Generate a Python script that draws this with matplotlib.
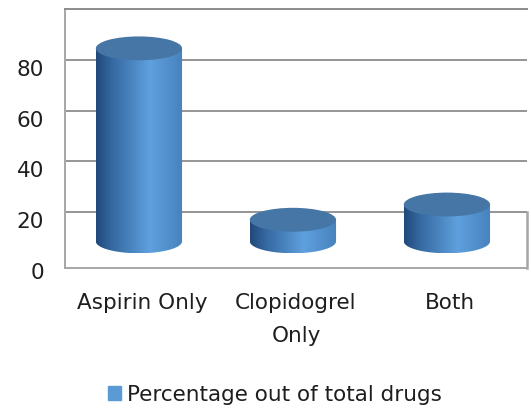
import numpy as np
import matplotlib
matplotlib.use('Agg')
import matplotlib.pyplot as plt
from matplotlib.patches import Ellipse, Polygon, Patch
from matplotlib.colors import LinearSegmentedColormap
from matplotlib.transforms import ScaledTranslation

# data
categories = ["Aspirin Only", "Clopidogrel\nOnly", "Both"]
values = [76, 8.5, 14.5]
yticks = [0, 20, 40, 60, 80]
legend_label = "Percentage out of total drugs"

# look of the 3d cylinders
base = 8.5          # cylinders float a bit above the wall floor (3d depth)
cyl_w = 0.56        # in category units
ell_h = 9.4         # ellipse height in data units
shift = -0.02
body_cmap = LinearSegmentedColormap.from_list(
    "body", [(0.0, "#21497a"), (0.18, "#3468a0"), (0.62, "#5fa0de"), (1.0, "#4782bd")])
top_color = "#4676a6"
grid_col = "#8c8c8c"
frame_col = "#a6a6a6"
text_col = "#1e1e1e"
fsize = 15.5

plt.rcParams['font.family'] = ['DejaVu Sans']
fig = plt.figure(figsize=(5.31, 4.12), dpi=100)
ax = fig.add_axes([65/531, 1-268/412, 462/531, 259/412])

grad = np.linspace(0, 1, 256).reshape(1, -1)
for i, v in enumerate(values):
    cx = i + shift
    top = base + v
    x0, x1 = cx - cyl_w/2, cx + cyl_w/2
    t = np.linspace(0, np.pi, 60)
    arc = np.column_stack([cx + cyl_w/2*np.cos(t), base - ell_h/2*np.sin(t)])
    pts = np.vstack([[[x1, top], [x1, base]], arc[1:-1], [[x0, base], [x0, top]]])
    clip = Polygon(pts, closed=True, fc='none', ec='none', transform=ax.transData)
    ax.add_patch(clip)
    im = ax.imshow(grad, cmap=body_cmap, aspect='auto', zorder=3,
                   extent=[x0, x1, base - ell_h/2, top], interpolation='bilinear')
    im.set_clip_path(clip)
    ax.add_patch(Ellipse((cx, top), cyl_w, ell_h, fc=top_color, ec='none', zorder=4))

ax.set_xlim(-0.5, 2.5)
ax.set_ylim(-2, 100)

# back wall grid + frame
ax.set_yticks(yticks)
ax.yaxis.grid(True, color=grid_col, lw=1.3)
ax.get_ygridlines()[0].set_visible(False)
ax.set_axisbelow(True)
for s in ['left', 'top', 'bottom']:
    ax.spines[s].set_color(frame_col)
    ax.spines[s].set_linewidth(1.4)
ax.spines['top'].set_color(grid_col)
ax.spines['right'].set_visible(False)
ax.plot([2.5, 2.5], [-2, 20], color=frame_col, lw=1.8, clip_on=False, zorder=1)

ax.tick_params(axis='y', length=0, pad=15, labelsize=fsize, labelcolor=text_col)
off = ScaledTranslation(0, -8/100, fig.dpi_scale_trans)
for lab in ax.get_yticklabels():
    lab.set_transform(lab.get_transform() + off)

ax.set_xticks(range(len(categories)))
ax.set_xticklabels(categories, linespacing=1.8)
ax.tick_params(axis='x', length=0, pad=18, labelsize=fsize, labelcolor=text_col)

fig.legend(handles=[Patch(color="#5b9bd5")], labels=[legend_label],
           loc='center', bbox_to_anchor=(275/531, 1-395/412), frameon=False,
           fontsize=fsize, handlelength=0.62, handleheight=0.62, handletextpad=0.3,
           borderpad=0, labelcolor=text_col)

fig.savefig("out.png", dpi=100)
